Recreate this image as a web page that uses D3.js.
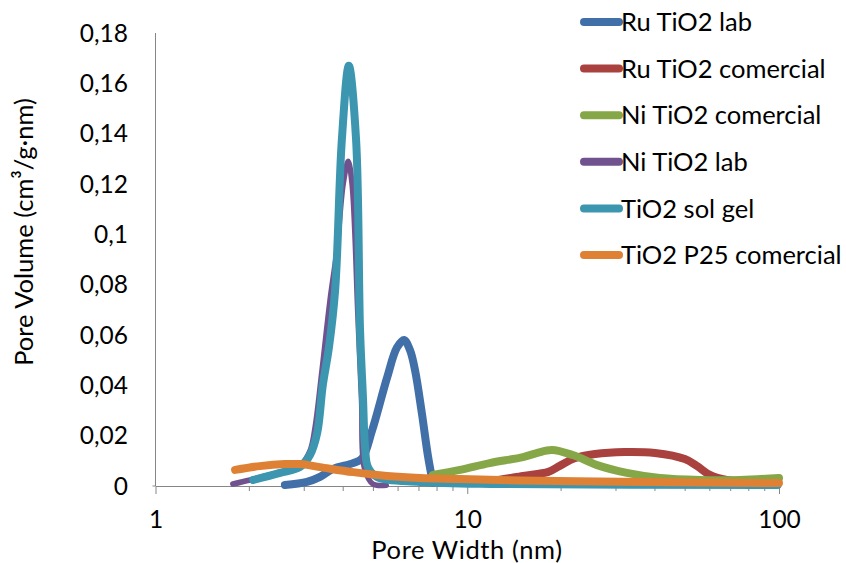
<!DOCTYPE html>
<html>
<head>
<meta charset="utf-8">
<script src="https://cdn.jsdelivr.net/npm/d3@7"></script>
<style>
  html, body { margin: 0; padding: 0; background: #fff; }
  svg { display: block; }
  text { font-family: Lato, "Open Sans", sans-serif; fill: #000; }
</style>
</head>
<body>
<svg id="chart" width="846" height="563"></svg>
<script>
// ---- data ----
const seriesNames = ["Ru TiO2 lab", "Ru TiO2 comercial", "Ni TiO2 comercial", "Ni TiO2 lab", "TiO2 sol gel", "TiO2 P25 comercial"];
const seriesColors = ["#4170A8", "#A9413E", "#86A747", "#70528F", "#3D96B0", "#DE8134"];

const ruLabW = [2.60, 3.06, 3.37, 3.71, 4.30, 4.60, 4.95, 5.53, 5.95, 6.27, 6.55, 6.80, 7.15, 7.48, 7.76];
const ruLabV = [0.0004, 0.0016, 0.0036, 0.0068, 0.0091, 0.011, 0.022, 0.043, 0.055, 0.058, 0.054, 0.046, 0.029, 0.012, 0.0012];

const ruComW = [9.5, 11.8, 15.1, 18.2, 19.8, 22.1, 25.7, 32.0, 40.0, 49.9, 54.5, 60.0, 68.0, 86.7];
const ruComV = [0.0015, 0.002, 0.004, 0.0056, 0.008, 0.011, 0.0127, 0.0135, 0.0131, 0.0107, 0.008, 0.0044, 0.0024, 0.0016];

const niComW = [7.76, 9.48, 11.8, 15.1, 16.7, 18.7, 21.8, 26.1, 32.5, 41.5, 55.7, 75.0, 100];
const niComV = [0.0044, 0.0064, 0.0091, 0.0115, 0.0131, 0.0143, 0.0123, 0.0083, 0.0052, 0.0032, 0.0024, 0.0024, 0.0032];

const niLabW = [1.77, 2.01, 2.51, 2.91, 3.13, 3.25, 3.42, 3.63, 3.82, 4.00, 4.15, 4.27, 4.46, 4.58, 4.68, 4.98, 5.5];
const niLabV = [0.0008, 0.0024, 0.0056, 0.0083, 0.014, 0.0234, 0.046, 0.074, 0.094, 0.120, 0.129, 0.120, 0.067, 0.034, 0.007, 0.0008, 0.0003];

const solGelW = [2.06, 2.51, 2.91, 3.13, 3.30, 3.44, 3.60, 3.77, 3.96, 4.17, 4.40, 4.53, 4.63, 4.70, 4.80, 5.13, 7.05, 12.7, 99];
const solGelV = [0.0024, 0.0052, 0.0076, 0.0123, 0.021, 0.040, 0.055, 0.078, 0.1375, 0.167, 0.1375, 0.062, 0.035, 0.0155, 0.0076, 0.0036, 0.0016, 0.0008, 0.0004];

const p25W = [1.80, 2.16, 2.60, 2.91, 3.37, 4.30, 5.53, 7.05, 9.48, 14.8, 30.9, 55.7, 100];
const p25V = [0.0064, 0.0079, 0.0087, 0.0087, 0.0075, 0.0055, 0.0040, 0.0032, 0.0028, 0.0022, 0.0017, 0.0014, 0.0012];

const yTicks = [0, 0.02, 0.04, 0.06, 0.08, 0.1, 0.12, 0.14, 0.16, 0.18];
const yTickLabels = ["0", "0,02", "0,04", "0,06", "0,08", "0,1", "0,12", "0,14", "0,16", "0,18"];
const xMajorTicks = [1, 10, 100];
const xMinorTicks = [2,3,4,5,6,7,8,9,20,30,40,50,60,70,80,90];

const seriesData = [
  [ruLabW, ruLabV], [ruComW, ruComV], [niComW, niComV],
  [niLabW, niLabV], [solGelW, solGelV], [p25W, p25V]
];
const seriesWidths = [8, 8, 8, 5.5, 8, 8];

// ---- layout ----
const svg = d3.select("#chart");
const x = d3.scaleLog().domain([1, 100]).range([155.5, 779]);
const y = d3.scaleLinear().domain([0, 0.18]).range([486, 33]);
const axisColor = "#868686";

// y axis line
svg.append("line").attr("x1", x(1)).attr("x2", x(1)).attr("y1", y(0.18)).attr("y2", y(0))
  .attr("stroke", axisColor).attr("stroke-width", 1);
svg.append("line").attr("x1", x(1) - 3).attr("x2", x(1)).attr("y1", y(0)).attr("y2", y(0))
  .attr("stroke", axisColor).attr("stroke-width", 1);

// x axis via d3 axis for major ticks
const xAxis = d3.axisBottom(x).tickValues(xMajorTicks).tickFormat(d3.format("d")).tickSize(8).tickSizeOuter(0);
const gx = svg.append("g").attr("transform", `translate(0,${y(0)})`).call(xAxis);
gx.select(".domain").attr("stroke", axisColor);
gx.selectAll(".tick line").attr("stroke", axisColor);
gx.selectAll(".tick text").attr("font-family", "Lato").attr("font-size", 24.5)
  .attr("fill", "#000").attr("y", 42).attr("dy", null);
gx.selectAll(".minor").data(xMinorTicks).enter().append("line")
  .attr("x1", d => x(d)).attr("x2", d => x(d)).attr("y1", 0).attr("y2", 5)
  .attr("stroke", axisColor);

// y tick labels
svg.append("g").selectAll("text").data(yTicks).enter().append("text")
  .attr("x", 128).attr("y", d => y(d)).attr("dy", "0.36em")
  .attr("text-anchor", "end").attr("font-size", 24.5)
  .text((d, i) => yTickLabels[i]);

// axis titles
svg.append("text").attr("x", 467).attr("y", 559).attr("text-anchor", "middle")
  .attr("font-size", 25.5).attr("letter-spacing", 0.6).text("Pore Width (nm)");
svg.append("text").attr("transform", "translate(33,232) rotate(-90)")
  .attr("text-anchor", "middle").attr("font-size", 25.5).text("Pore Volume (cm³/g·nm)");

// series
const line = d3.line().x(d => x(d[0])).y(d => y(d[1])).curve(d3.curveCatmullRom.alpha(0.5));
seriesData.forEach((s, i) => {
  const pts = s[0].map((w, j) => [w, s[1][j]]);
  svg.append("path").datum(pts).attr("d", line)
    .attr("fill", "none").attr("stroke", seriesColors[i])
    .attr("stroke-width", seriesWidths[i])
    .attr("stroke-linecap", "round").attr("stroke-linejoin", "round");
});

// legend
const lg = svg.append("g");
seriesNames.forEach((name, i) => {
  const ly = 22 + i * 46.6;
  lg.append("line").attr("x1", 584).attr("x2", 619).attr("y1", ly).attr("y2", ly)
    .attr("stroke", seriesColors[i]).attr("stroke-width", 8).attr("stroke-linecap", "round");
  lg.append("text").attr("x", 621).attr("y", ly).attr("dy", "0.36em")
    .attr("font-size", 25.5).text(name);
});
</script>
</body>
</html>
